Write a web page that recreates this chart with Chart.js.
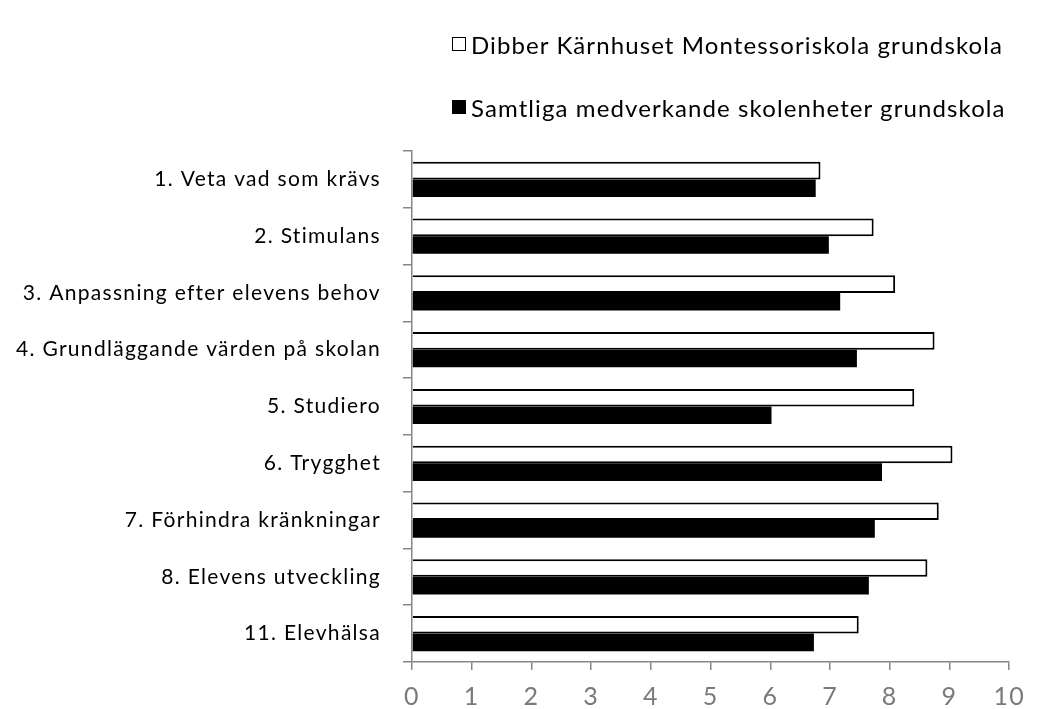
<!DOCTYPE html>
<html>
<head>
<meta charset="utf-8">
<title>Skolenkät</title>
<script src="https://cdn.jsdelivr.net/npm/chart.js@4.4.1/dist/chart.umd.min.js"></script>
<style>
    html, body { margin: 0; padding: 0; background: #fff; }
    #wrap { position: relative; width: 1037px; height: 709px; }
    #legend { position: absolute; left: 452px; top: 29px; font-family: Lato, sans-serif; font-size: 24px; letter-spacing: 1.1px; color: #000; }
    #legend .item { display: flex; align-items: center; height: 30px; margin-bottom: 33px; white-space: nowrap; }
    #legend .box { width: 14px; height: 14px; box-sizing: border-box; border: 1.5px solid #000; margin-right: 5px; }
</style>
</head>
<body>
<div id="wrap">
    <canvas id="chart" width="1037" height="709"></canvas>
    <div id="legend"></div>
</div>
<script>
/* ==========================================================================
   Data
   ========================================================================== */

const categories = [
    '1. Veta vad som krävs',
    '2. Stimulans',
    '3. Anpassning efter elevens behov',
    '4. Grundläggande värden på skolan',
    '5. Studiero',
    '6. Trygghet',
    '7. Förhindra kränkningar',
    '8. Elevens utveckling',
    '11. Elevhälsa'
];

const seriesNames = [
    'Dibber Kärnhuset Montessoriskola grundskola',
    'Samtliga medverkande skolenheter grundskola'
];

// Dibber Kärnhuset (white bars)
const schoolValues = [6.84, 7.73, 8.09, 8.75, 8.41, 9.05, 8.82, 8.63, 7.48];

// Samtliga skolenheter (black bars)
const allValues = [6.76, 6.98, 7.17, 7.45, 6.02, 7.87, 7.75, 7.65, 6.73];

const xMin = 0;
const xMax = 10;

/* ==========================================================================
   Chart
   ========================================================================== */

const FONT = 'Lato, sans-serif';
const AXIS_GREY = '#868686';

const seriesFill = ['#ffffff', '#000000'];

// The source chart has slightly spaced-out lettering
const letterSpacingPlugin = {
    id: 'letterSpacing',
    beforeLayout(chart) { chart.ctx.letterSpacing = '1.3px'; },
    beforeDraw(chart) { chart.ctx.letterSpacing = '1.3px'; }
};

const ctx = document.getElementById('chart').getContext('2d');

const chart = new Chart(ctx, {
    type: 'bar',
    data: {
        labels: categories,
        datasets: [
            {
                label: seriesNames[0],
                data: schoolValues,
                backgroundColor: seriesFill[0],
                borderColor: '#000000',
                borderWidth: 2,
                borderSkipped: 'start',
                categoryPercentage: 0.62,
                barPercentage: 1.0
            },
            {
                label: seriesNames[1],
                data: allValues,
                backgroundColor: seriesFill[1],
                borderWidth: 0,
                categoryPercentage: 0.62,
                barPercentage: 1.0
            }
        ]
    },
    options: {
        indexAxis: 'y',
        responsive: false,
        animation: false,
        layout: {
            padding: { top: 151, right: 27, bottom: 0, left: 5 }
        },
        plugins: {
            legend: { display: false },
            tooltip: { enabled: false }
        },
        scales: {
            x: {
                min: xMin,
                max: xMax,
                ticks: {
                    stepSize: 1,
                    color: '#7a7a7a',
                    padding: 12,
                    font: { family: FONT, size: 25 }
                },
                grid: {
                    drawOnChartArea: false,
                    color: AXIS_GREY,
                    tickLength: 8,
                    lineWidth: 1.5
                },
                border: { color: AXIS_GREY, width: 1.5 },
                afterFit: (scale) => { scale.height = 47; }
            },
            y: {
                ticks: {
                    color: '#000000',
                    padding: 22,
                    font: { family: FONT, size: 21 }
                },
                grid: {
                    drawOnChartArea: false,
                    color: AXIS_GREY,
                    tickLength: 9,
                    lineWidth: 1.5
                },
                border: { color: AXIS_GREY, width: 1.5 },
                afterFit: (scale) => { scale.width = 407; }
            }
        }
    },
    plugins: [letterSpacingPlugin]
});

// Legend rows, one per series
const legendEl = document.getElementById('legend');
chart.data.datasets.forEach((ds, i) => {
    const row = document.createElement('div');
    row.className = 'item';
    const box = document.createElement('span');
    box.className = 'box';
    box.style.background = seriesFill[i];
    const text = document.createElement('span');
    text.textContent = ds.label;
    row.appendChild(box);
    row.appendChild(text);
    legendEl.appendChild(row);
});
</script>
</body>
</html>
